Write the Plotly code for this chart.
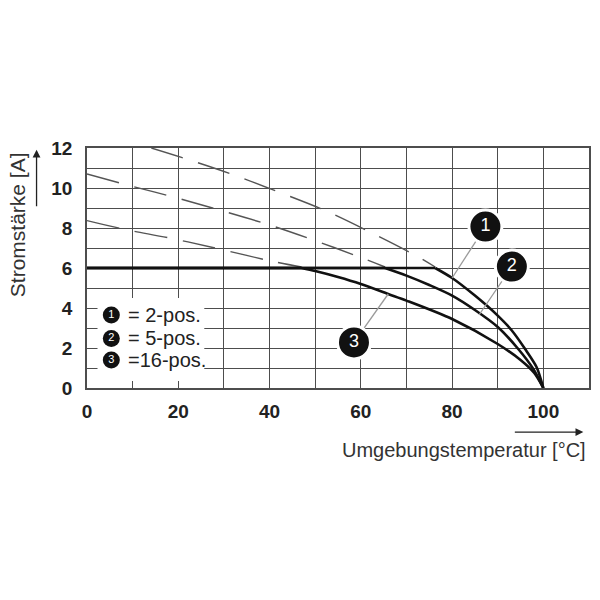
import plotly.graph_objects as go

# ---- data ----
x_tick_vals = [0, 20, 40, 60, 80, 100]
x_tick_text = ["0", "20", "40", "60", "80", "100"]
y_tick_vals = [0, 2, 4, 6, 8, 10, 12]
y_tick_text = ["0", "2", "4", "6", "8", "10", "12"]

# solid derating curves (flat part = first two points, then derated part)
c1_x = [0, 76.3, 80, 85, 90, 93, 96, 98.5, 100]
c1_y = [6, 6, 5.5, 4.62, 3.62, 2.9, 1.95, 1.05, 0]
c2_x = [0, 65.3, 70, 75, 80, 85, 90, 94.5, 97.8, 100]
c2_y = [6, 6, 5.62, 5.15, 4.62, 3.9, 3.05, 1.95, 0.95, 0]
c3_x = [0, 47, 50, 55, 60, 66, 70, 80, 90, 95, 98, 100]
c3_y = [6, 6, 5.85, 5.55, 5.2, 4.7, 4.37, 3.45, 2.2, 1.4, 0.75, 0]

# dashed extensions above 6 A
d1_x = [14.1, 20.7, 31.6, 42.2, 52.4, 62.6, 72.8, 76.3]
d1_y = [12, 11.53, 10.7, 9.78, 8.85, 7.73, 6.53, 6.05]
d2_x = [0, 7.5, 18.1, 29, 40, 50.2, 61.1, 65.3]
d2_y = [10.7, 10.23, 9.6, 8.9, 8.15, 7.35, 6.43, 6.05]
d3_x = [0, 7.9, 18.5, 29, 40.3, 47]
d3_y = [8.37, 7.95, 7.48, 6.95, 6.35, 6.05]

# callouts: label, circle centre, point on curve
callout_labels = ["1", "2", "3"]
callout_x = [87.3, 93.1, 58.5]
callout_y = [8.07, 6.07, 2.28]
callout_tx = [80, 85.9, 66]
callout_ty = [5.5, 3.65, 4.7]

# legend
legend_nums = ["1", "2", "3"]
legend_text = ["= 2-pos.", "= 5-pos.", "=16-pos."]
legend_y = [3.65, 2.48, 1.4]

FONT = "Liberation Sans, Arial, Helvetica, sans-serif"
GRID = "#4d4d4d"

fig = go.Figure()

# dashed extensions
for dx, dy in [(d1_x, d1_y), (d2_x, d2_y), (d3_x, d3_y)]:
    fig.add_trace(go.Scatter(x=dx, y=dy, mode="lines",
                             line=dict(color="#555555", width=1.4, dash="33px,16px", shape="spline"),
                             hoverinfo="skip", showlegend=False))

# solid curves: flat then derated
for cx, cy in [(c3_x, c3_y), (c2_x, c2_y), (c1_x, c1_y)]:
    fig.add_trace(go.Scatter(x=cx[:2], y=cy[:2], mode="lines", line=dict(color="#111111", width=2.6),
                             hoverinfo="skip", showlegend=False))
    fig.add_trace(go.Scatter(x=cx[1:], y=cy[1:], mode="lines",
                             line=dict(color="#111111", width=2.6, shape="spline", smoothing=0.8),
                             hoverinfo="skip", showlegend=False))

# leader lines
for i in range(3):
    fig.add_trace(go.Scatter(x=[callout_x[i], callout_tx[i]], y=[callout_y[i], callout_ty[i]], mode="lines",
                             line=dict(color="#9a9a9a", width=1.3), hoverinfo="skip", showlegend=False))

# callout circles
fig.add_trace(go.Scatter(x=callout_x, y=callout_y, mode="markers+text", text=callout_labels,
                         textposition="middle center",
                         textfont=dict(family=FONT, size=18, color="white"),
                         marker=dict(size=33, color="#111111", line=dict(color="white", width=3)),
                         hoverinfo="skip", showlegend=False))

# legend markers
fig.add_trace(go.Scatter(x=[5.33] * 3, y=legend_y, mode="markers+text", text=legend_nums,
                         textposition="middle center",
                         textfont=dict(family=FONT, size=11, color="white"),
                         marker=dict(size=17, color="#111111", line=dict(width=0)),
                         hoverinfo="skip", showlegend=False))
for t, yy in zip(legend_text, legend_y):
    fig.add_annotation(x=8.5, y=yy, text=t, xanchor="left", yanchor="middle", showarrow=False,
                       font=dict(family=FONT, size=20, color="#222222"))

# white legend box over the grid
fig.add_shape(type="rect", x0=2.3, x1=25.7, y0=0.35, y1=4.5, fillcolor="white",
              line=dict(width=0), layer="between")

fig.update_xaxes(range=[0, 110], tickvals=x_tick_vals, ticktext=x_tick_text,
                 showgrid=True, gridcolor=GRID, gridwidth=1.3,
                 minor=dict(dtick=10, showgrid=True, gridcolor=GRID, gridwidth=1.3),
                 showline=True, linecolor=GRID, linewidth=1.5, mirror=True, zeroline=False,
                 ticks="outside", ticklen=5, tickcolor="rgba(0,0,0,0)",
                 tickfont=dict(family=FONT, size=19, color="#222222", weight="bold"))
fig.update_yaxes(range=[0, 12], tickvals=y_tick_vals, ticktext=y_tick_text,
                 showgrid=True, gridcolor=GRID, gridwidth=1.3,
                 minor=dict(dtick=1, showgrid=True, gridcolor=GRID, gridwidth=1.3),
                 showline=True, linecolor=GRID, linewidth=1.5, mirror=True, zeroline=False,
                 ticks="outside", ticklen=9, tickcolor="rgba(0,0,0,0)",
                 tickfont=dict(family=FONT, size=19, color="#222222", weight="bold"))

# axis titles with arrows
fig.add_annotation(xref="paper", yref="paper", x=-0.1387, y=0.68, xanchor="center", yanchor="middle",
                   text="Stromstärke [A]", textangle=-90,
                   showarrow=False, font=dict(family=FONT, size=21, color="#333333"))
fig.add_annotation(xref="paper", yref="paper", x=-0.1005, y=0.993, ax=0, ay=58, text="",
                   showarrow=True, arrowhead=2, arrowsize=1.2, arrowwidth=1.3, arrowcolor="#222222")
fig.add_annotation(xref="paper", yref="paper", x=0.750, y=-0.2587, xanchor="center", yanchor="middle",
                   text="Umgebungstemperatur [°C]",
                   showarrow=False, font=dict(family=FONT, size=20, color="#333333"))
fig.add_annotation(xref="paper", yref="paper", x=0.9887, y=-0.1836, ax=-70, ay=0, text="",
                   showarrow=True, arrowhead=2, arrowsize=1.2, arrowwidth=1.3, arrowcolor="#222222")

fig.update_layout(width=600, height=600, margin=dict(l=87, r=9, t=148, b=212),
                  plot_bgcolor="white", paper_bgcolor="white", showlegend=False)

fig.write_html("out.html", config={"displayModeBar": False},
               post_script="document.body.style.margin='0';")
